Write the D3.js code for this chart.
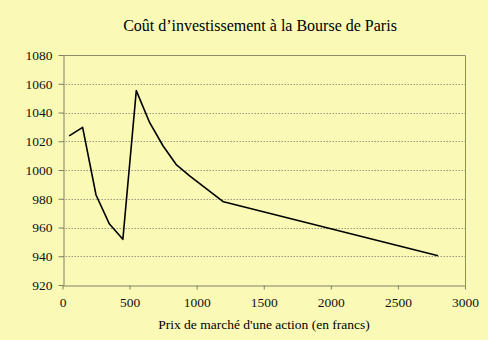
<!DOCTYPE html>
<html><head><meta charset="utf-8">
<script src="https://cdn.jsdelivr.net/npm/d3@7"></script>
<style>
html,body{margin:0;padding:0;background:#FAFAB6;}
svg{display:block;}
svg text{font-family:"Liberation Serif","Times New Roman",serif !important;}
</style></head><body>
<svg id="c" width="488" height="340"></svg>
<script>
const prices = [50, 150, 250, 350, 450, 550, 650, 750, 850, 950, 1200, 2800];
const costs = [1023.7, 1029.7, 982.6, 962.4, 951.8, 1055.2, 1032.9, 1016.7, 1003.5, 995.8, 977.9, 940.4];
const xTicks = [0, 500, 1000, 1500, 2000, 2500, 3000];
const yTicks = [920, 940, 960, 980, 1000, 1020, 1040, 1060, 1080];
const title = "Coût d’investissement à la Bourse de Paris";
const xTitle = "Prix de marché d'une action (en francs)";

const svg = d3.select("#c");
const W = 488, H = 340;
const m = {left: 62.5, right: 465, top: 55, bottom: 285};
svg.append("rect").attr("width", W).attr("height", H).attr("fill", "#FAFAB6");

const x = d3.scaleLinear().domain([0, 3000]).range([m.left, m.right]);
const y = d3.scaleLinear().domain([920, 1080]).range([m.bottom, m.top]);

// gridlines
svg.append("g").selectAll("line").data(yTicks.filter(v => v > 920 && v < 1080)).join("line")
  .attr("x1", m.left).attr("x2", m.right)
  .attr("y1", d => Math.round(y(d)) + 0.5).attr("y2", d => Math.round(y(d)) + 0.5)
  .attr("stroke", "#9a9a80").attr("stroke-width", 1).attr("stroke-dasharray", "1.5,1.5");

// plot border top/right
svg.append("path")
  .attr("d", `M${m.left},${m.top + 0.5}H${m.right + 0.5}V${m.bottom}`)
  .attr("fill", "none").attr("stroke", "#8c8c70").attr("stroke-width", 1);

// axes
const fmt = d3.format("d");
const xAxis = d3.axisBottom(x).tickValues(xTicks).tickFormat(fmt).tickSize(4).tickSizeOuter(0).tickPadding(8);
const gx = svg.append("g").attr("transform", `translate(0,${Math.round(m.bottom) + 0.5})`).call(xAxis);
const yAxis = d3.axisLeft(y).tickValues(yTicks).tickFormat(fmt).tickSize(5).tickSizeOuter(0).tickPadding(6);
const gy = svg.append("g").attr("transform", `translate(${Math.round(m.left) + 0.5},0)`).call(yAxis);
[gx, gy].forEach(g => {
  g.attr("font-family", null).attr("font-size", null);
  g.select(".domain").attr("stroke", "#808068");
  g.selectAll(".tick line").attr("stroke", "#808068");
  g.selectAll("text").attr("fill", "#111").style("font-size", "13.5px");
});

// line
const pts = prices.map((p, i) => [p, costs[i]]);
svg.append("path").datum(pts)
  .attr("fill", "none").attr("stroke", "#000").attr("stroke-width", 1.6)
  .attr("stroke-linejoin", "round")
  .attr("d", d3.line().x(d => x(d[0])).y(d => y(d[1])));

// titles
svg.append("text").attr("x", 260).attr("y", 31).attr("text-anchor", "middle")
  .style("font-size", "16px").attr("fill", "#000").text(title);
svg.append("text").attr("x", 264).attr("y", 329).attr("text-anchor", "middle")
  .style("font-size", "13.5px").attr("fill", "#000").text(xTitle);
</script>
</body></html>
